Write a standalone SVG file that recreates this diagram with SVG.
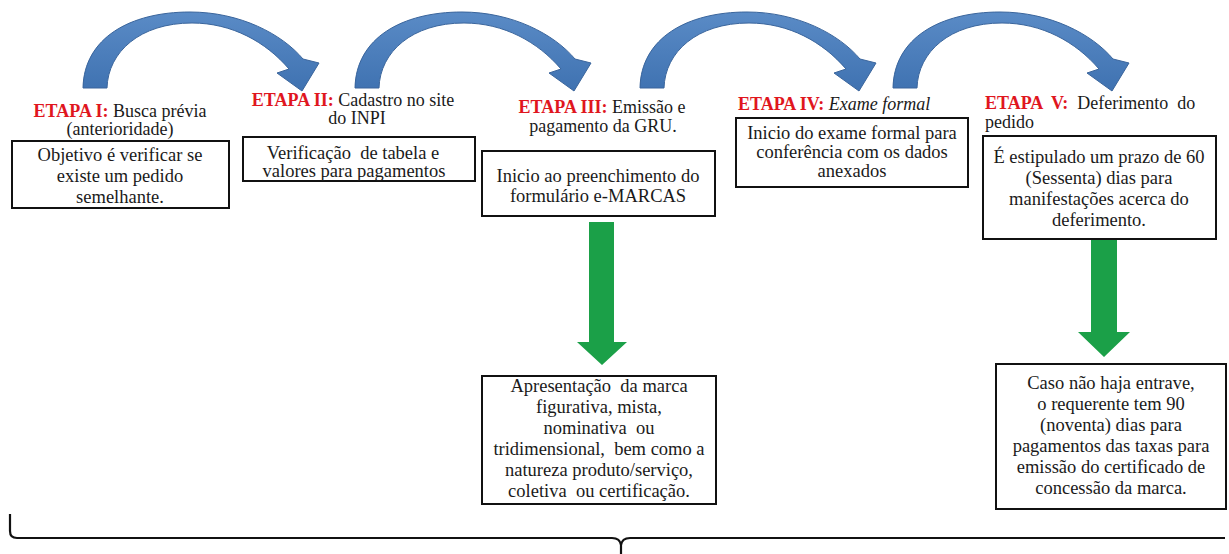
<svg xmlns="http://www.w3.org/2000/svg" width="1229" height="554" viewBox="0 0 1229 554">
<style>
text{font-family:"Liberation Serif",Tinos,"Times New Roman",serif;font-size:18.5px;fill:#1a1a1a;white-space:pre}
text.h{font-size:18px}
.c{text-anchor:middle}
.r{fill:#e0161e;font-weight:bold}
.box{fill:#fff;stroke:#111;stroke-width:2}
.blue{fill:url(#bg);stroke:#3a659c;stroke-width:1}
.green{fill:#1ba048}
.brace{fill:none;stroke:#111;stroke-width:2.2}
</style>
<defs>
<linearGradient id="bg" x1="0" y1="0" x2="0" y2="1">
<stop offset="0" stop-color="#5a8bc6"/>
<stop offset="1" stop-color="#3f72b1"/>
</linearGradient>
<path id="arc" d="M83,88 C84,38 130,12 190,12 C240,12 282,34 303,59 L319,63 L302,91 L277,73 L289,69 C266,42 232,23 192,23 C140,23 108,52 107,88 Z"/>
</defs>
<rect width="1229" height="554" fill="#fff"/>
<g id="connectors">
<use href="#arc" class="blue"/>
<use href="#arc" class="blue" transform="translate(272,0)"/>
<use href="#arc" class="blue" transform="translate(557,0)"/>
<use href="#arc" class="blue" transform="translate(810,0)"/>
<path class="green" d="M589,222 H614 V342 H627 L602,365 L577,342 H589 Z"/>
<path class="green" d="M1091,240 H1117 V332 H1130 L1104,357 L1078,332 H1091 Z"/>
<path class="brace" d="M10,514 V531 Q10,538 17,538 H612 Q620,538 621,545 V554 M621,545 Q622,538 630,538 H1225"/>
</g>
<g id="etapa1">
<text class="h c" x="120" y="117"><tspan class="r">ETAPA I:</tspan> Busca prévia</text>
<text class="h c" x="120" y="135">(anterioridade)</text>
<rect class="box" x="12" y="141" width="217" height="67"/>
<text class="c" x="120" y="161">Objetivo é verificar se</text>
<text class="c" x="120" y="182">existe um pedido</text>
<text class="c" x="120" y="203">semelhante.</text>
</g>
<g id="etapa2">
<text class="h c" x="353" y="106"><tspan class="r">ETAPA II:</tspan> Cadastro no site</text>
<text class="h c" x="357" y="124">do INPI</text>
<rect class="box" x="243" y="137" width="232" height="44"/>
<text class="c" x="353" y="159">Verificação  de tabela e</text>
<text class="c" x="354" y="177">valores para pagamentos</text>
</g>
<g id="etapa3">
<text class="h c" x="602" y="113"><tspan class="r">ETAPA III:</tspan> Emissão e</text>
<text class="h c" x="603" y="132">pagamento da GRU.</text>
<rect class="box" x="482" y="151" width="233" height="65"/>
<text class="c" x="598" y="182">Inicio ao preenchimento do</text>
<text class="c" x="598" y="202">formulário e-MARCAS</text>
</g>
<g id="etapa3b">
<rect class="box" x="482" y="376" width="234" height="128"/>
<text class="c" x="599" y="392">Apresentação  da marca</text>
<text class="c" x="599" y="413">figurativa, mista,</text>
<text class="c" x="599" y="434">nominativa  ou</text>
<text class="c" x="599" y="455">tridimensional,  bem como a</text>
<text class="c" x="599" y="476">natureza produto/serviço,</text>
<text class="c" x="599" y="497">coletiva  ou certificação.</text>
</g>
<g id="etapa4">
<text class="h" x="738" y="110"><tspan class="r">ETAPA IV:</tspan> <tspan font-style="italic">Exame formal</tspan></text>
<rect class="box" x="736" y="118" width="232" height="69"/>
<text class="c" x="852" y="139">Inicio do exame formal para</text>
<text class="c" x="852" y="158">conferência com os dados</text>
<text class="c" x="852" y="177">anexados</text>
</g>
<g id="etapa5">
<text class="h" x="985" y="109"><tspan class="r">ETAPA  V:</tspan>  Deferimento  do</text>
<text class="h" x="985" y="128">pedido</text>
<rect class="box" x="983" y="136" width="233" height="103"/>
<text class="c" x="1099" y="163">É estipulado um prazo de 60</text>
<text class="c" x="1099" y="184">(Sessenta) dias para</text>
<text class="c" x="1099" y="205">manifestações acerca do</text>
<text class="c" x="1099" y="226">deferimento.</text>
</g>
<g id="etapa5b">
<rect class="box" x="996" y="364" width="230" height="145"/>
<text class="c" x="1111" y="389">Caso não haja entrave,</text>
<text class="c" x="1111" y="410">o requerente tem 90</text>
<text class="c" x="1111" y="431">(noventa) dias para</text>
<text class="c" x="1111" y="452">pagamentos das taxas para</text>
<text class="c" x="1111" y="473">emissão do certificado de</text>
<text class="c" x="1111" y="494">concessão da marca.</text>
</g>
</svg>
